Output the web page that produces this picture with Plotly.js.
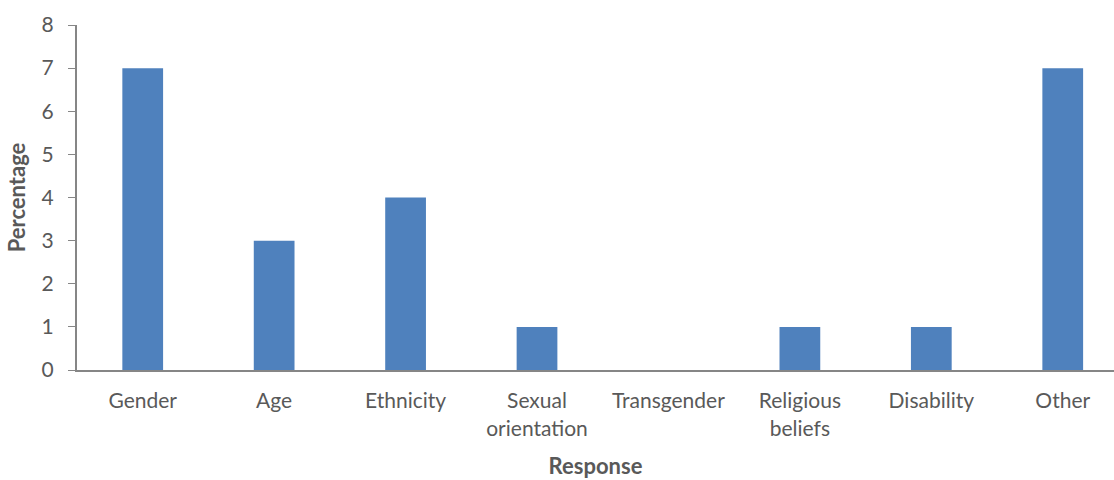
<!DOCTYPE html>
<html><head><meta charset="utf-8">
<script src="https://cdn.plot.ly/plotly-3.0.1.min.js"></script>
<style>body{margin:0;background:#fff}</style>
</head><body>
<div id="chart" style="width:1114px;height:480px"></div>
<script>
const categories = ["Gender","Age","Ethnicity","Sexual orientation","Transgender","Religious beliefs","Disability","Other"];
const tickLabels = ["Gender","Age","Ethnicity","Sexual<br>orientation","Transgender","Religious<br>beliefs","Disability","Other"];
const values = [7,3,4,1,0,1,1,7];
const yTicks = [0,1,2,3,4,5,6,7,8];

const font = "Lato, 'Open Sans', sans-serif";
Plotly.newPlot("chart", [{
  type: "bar",
  x: categories,
  y: values,
  marker: {color: "#4F81BD"},
  hoverinfo: "x+y"
}], {
  width: 1114, height: 480,
  margin: {l: 77, r: 0, t: 25, b: 110},
  bargap: 0.69,
  paper_bgcolor: "#fff", plot_bgcolor: "#fff",
  showlegend: false,
  font: {family: font, color: "#595959", size: 21},
  xaxis: {
    type: "category",
    range: [-0.5, 7.39],
    tickvals: categories,
    ticktext: tickLabels,
    showline: true, linecolor: "#868686", linewidth: 2,
    ticks: "", showgrid: false, zeroline: false,
    ticklabelstandoff: 11,
    tickfont: {family: font, size: 21, color: "#595959"},
    title: {text: "<b>Response</b>", font: {family: font, size: 22, color: "#595959"}, standoff: 20}
  },
  yaxis: {
    range: [0, 8],
    tickvals: yTicks,
    showline: true, linecolor: "#868686", linewidth: 2,
    ticks: "outside", ticklen: 7, tickcolor: "#868686", tickwidth: 1,
    showgrid: false, zeroline: false,
    ticklabelstandoff: 10,
    tickfont: {family: font, size: 21, color: "#595959"},
    title: {text: "<b>Percentage</b>", font: {family: font, size: 22, color: "#595959"}, standoff: 10}
  }
}, {displayModeBar: false});
</script>
</body></html>
